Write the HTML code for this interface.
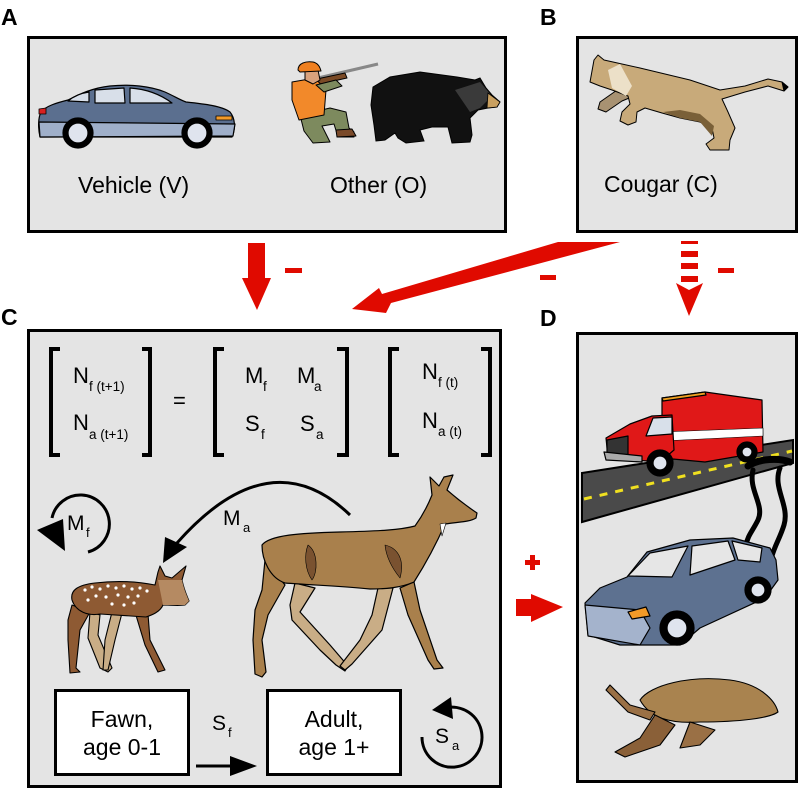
<!DOCTYPE html>
<html><head><meta charset="utf-8"><style>
html,body{margin:0;padding:0;background:#fff;}
svg{display:block;}
text{font-family:"Liberation Sans",Arial,sans-serif;fill:#000;}
</style></head><body>
<svg width="803" height="792" viewBox="0 0 803 792" xmlns="http://www.w3.org/2000/svg">
<!-- Panel labels -->
<text x="1" y="25" font-size="23" font-weight="bold">A</text>
<text x="540" y="25" font-size="23" font-weight="bold">B</text>
<text x="1" y="325" font-size="23" font-weight="bold">C</text>
<text x="540" y="326" font-size="23" font-weight="bold">D</text>

<!-- Panels -->
<rect x="28.5" y="37.5" width="477" height="194" fill="#e4e4e4" stroke="#000" stroke-width="3"/>
<rect x="577.5" y="37.5" width="219" height="194" fill="#e4e4e4" stroke="#000" stroke-width="3"/>
<rect x="28.5" y="330.5" width="472" height="456" fill="#e4e4e4" stroke="#000" stroke-width="3"/>
<rect x="577.5" y="333.5" width="219" height="448" fill="#e4e4e4" stroke="#000" stroke-width="3"/>

<!-- ===== Panel A: car ===== -->
<g stroke="#000" stroke-width="1.2" stroke-linejoin="round">
<path d="M40,137 C38,128 38,118 41,112 C46,106 56,103 68,100 C80,94 92,88 110,86 C130,84 150,86 165,92 C174,96 180,100 186,102 C205,104 222,106 230,112 C235,118 236,128 232,137 Z" fill="#5b6f8f"/>
<path d="M39,122 L235,124 L233,136 L40,137 Z" fill="#9fafc9"/>
<path d="M68,101 C74,96 82,93 89,92 L89,102 Z" fill="#d8dfe9"/>
<path d="M95,90 L124,88 L125,103 L95,103 Z" fill="#d8dfe9"/>
<path d="M130,88 C145,89 160,94 172,103 L130,103 Z" fill="#d8dfe9"/>
<path d="M216,116 L232,116 L232,120 L216,120 Z" fill="#f29a28" stroke-width="0.8"/>
<path d="M39,109 L46,108 L46,114 L39,114 Z" fill="#d82020" stroke-width="0.8"/>
<circle cx="78" cy="133" r="15" fill="#000"/>
<circle cx="78" cy="133" r="10" fill="#dfe4ee"/>
<circle cx="197" cy="133" r="15" fill="#000"/>
<circle cx="197" cy="133" r="10" fill="#dfe4ee"/>
</g>
<text x="78" y="193" font-size="23">Vehicle (V)</text>

<!-- hunter -->
<g stroke="#000" stroke-width="1" stroke-linejoin="round">
<line x1="318" y1="78" x2="378" y2="64" stroke="#888" stroke-width="3"/>
<path d="M312,80 L345,73 L347,78 L316,85 Z" fill="#7a4a26"/>
<path d="M300,115 L330,108 L346,112 L349,128 L354,132 L354,137 L338,137 L334,124 L322,126 L330,142 L313,143 L304,131 Z" fill="#7d8a5e"/>
<path d="M292,82 L315,78 L326,90 L324,115 L299,120 L292,100 Z" fill="#f2892a"/>
<path d="M316,85 L336,80 L342,86 L324,92 Z" fill="#7d8a5e"/>
<path d="M305,70 L318,70 L320,80 L313,84 L305,80 Z" fill="#d9a27d"/>
<path d="M298,70 C298,63 306,61 313,62 C318,63 320,67 321,71 L300,72 Z" fill="#f08020"/>
<path d="M336,130 L352,129 L356,136 L337,137 Z" fill="#7a4a2a"/>
</g>
<!-- bear -->
<path d="M373,87 L390,77 L420,72 L457,77 L475,80 L480,78 L486,88 L492,95 L500,102 L497,107 L488,108 L478,110 L470,118 L472,135 L470,142 L452,143 L450,135 L448,127 L432,127 L420,130 L424,141 L406,143 L398,138 L395,133 L385,140 L376,141 L374,125 L371,105 Z" fill="#111" stroke="#000" stroke-width="1"/>
<path d="M455,90 L480,82 L492,96 L480,108 L470,112 Z" fill="#3a3a3a"/>
<path d="M488,93 L500,102 L497,107 L487,108 Z" fill="#c9a060" stroke="#000" stroke-width="0.8"/>
<text x="330" y="193" font-size="23">Other (O)</text>

<!-- ===== Panel B: cougar ===== -->
<g stroke="#000" stroke-width="1" stroke-linejoin="round">
<path d="M620,88 L600,102 L598,109 L606,112 L622,101 L634,96 Z" fill="#a89272"/>
<path d="M590,82 L594,60 L598,55 L604,60 L613,62 L640,68 L665,74 L690,80 L720,90 L745,86 L768,79 L782,82 L788,87 L784,91 L768,86 L745,92 L722,99 L728,112 L735,128 L730,140 L729,150 L710,150 L706,144 L714,138 L712,128 L700,122 L680,118 L662,113 L645,108 L637,112 L636,122 L628,125 L620,121 L622,112 L630,104 L628,96 L612,90 L600,86 Z" fill="#c8aa7a"/>
<path d="M663,112 L680,110 L700,114 L714,126 L712,136 L700,122 L680,118 Z" fill="#7a6038" stroke="none"/>
<path d="M608,70 L620,64 L632,86 L626,96 L612,88 Z" fill="#ece0c8" stroke="none"/>
<path d="M782,82 L788,87 L784,91 Z" fill="#000"/>
</g>
<text x="604" y="192" font-size="23">Cougar (C)</text>

<!-- ===== Arrows between panels ===== -->
<g fill="#e00a00">
<rect x="248" y="243" width="17" height="37"/>
<polygon points="242,278 271,278 257,310"/>
<rect x="285" y="268" width="17" height="5"/>
<polygon points="558,242 620,242 391,303 386,313 352,309 379,288 382,294"/>
<rect x="540" y="275" width="16" height="5"/>
<rect x="681" y="241" width="17" height="3"/>
<rect x="681" y="251" width="17" height="6"/>
<rect x="681" y="263" width="17" height="6"/>
<rect x="681" y="276" width="17" height="6"/>
<polygon points="676,283 689,290 703,283 689,316"/>
<rect x="718" y="268" width="16" height="5"/>
<rect x="525" y="560" width="15" height="5"/>
<rect x="530" y="555" width="5" height="15"/>
<rect x="516" y="599" width="17" height="17"/>
<polygon points="531,594 563,607 531,622"/>
</g>

<!-- ===== Panel C: matrix ===== -->
<g fill="none" stroke="#000" stroke-width="4">
<path d="M60,349 L51,349 L51,455 L60,455"/>
<path d="M142,349 L150,349 L150,455 L142,455"/>
<path d="M224,349 L215,349 L215,455 L224,455"/>
<path d="M337,349 L347,349 L347,455 L337,455"/>
<path d="M399,349 L390,349 L390,455 L399,455"/>
<path d="M481,349 L490,349 L490,455 L481,455"/>
</g>
<g font-size="22">
<text x="73" y="383">N</text><text x="89" y="391" font-size="13.5">f (t+1)</text>
<text x="73" y="430">N</text><text x="89" y="439" font-size="13.5">a (t+1)</text>
<text x="173" y="408">=</text>
<text x="245" y="383">M</text><text x="263" y="391" font-size="13.5">f</text>
<text x="297" y="383">M</text><text x="314" y="391" font-size="13.5">a</text>
<text x="245" y="431">S</text><text x="261" y="439" font-size="13.5">f</text>
<text x="300" y="431">S</text><text x="316" y="439" font-size="13.5">a</text>
<text x="422" y="379">N</text><text x="438" y="387" font-size="13.5">f (t)</text>
<text x="422" y="428">N</text><text x="438" y="436" font-size="13.5">a (t)</text>
</g>

<!-- M_f loop -->
<path d="M88,552 A29,29 0 1 0 52,518" fill="none" stroke="#000" stroke-width="3"/>
<polygon points="37,530 63,519 65,551" fill="#000"/>
<text x="67" y="530" font-size="21">M</text><text x="86" y="537" font-size="13">f</text>

<!-- M_a arrow -->
<path d="M350,515 Q270,438 177,543" fill="none" stroke="#000" stroke-width="3"/>
<polygon points="163,563 165,537 187,547" fill="#000"/>
<text x="223" y="525" font-size="21">M</text><text x="243" y="532" font-size="13">a</text>

<!-- adult deer -->
<g stroke="#000" stroke-width="1.2" stroke-linejoin="round">
<path d="M295,583 L315,588 L300,612 L330,645 L348,666 L345,671 L336,665 L320,650 L292,620 L290,605 Z" fill="#c9ad86"/>
<path d="M378,588 L393,588 L382,630 L352,664 L345,670 L340,666 L360,640 L372,615 Z" fill="#c9ad86"/>
<path d="M265,560 L285,585 L268,615 L262,640 L266,672 L262,677 L255,674 L253,640 L255,610 L262,590 Z" fill="#a9804c"/>
<path d="M400,588 L414,582 L420,610 L437,660 L443,668 L434,669 L428,660 L408,615 Z" fill="#a9804c"/>
<path d="M262,545 C270,535 300,533 340,532 C380,531 400,530 415,526 C423,515 428,505 432,495 L430,477 L439,486 L444,477 L453,475 L447,490 C455,497 465,505 477,513 L476,518 C470,522 458,522 445,524 C438,540 428,560 414,582 C400,588 385,589 370,589 C340,586 310,585 285,583 C270,578 262,560 262,545 Z" fill="#a9804c"/>
<path d="M308,545 C318,552 318,572 312,580 C305,570 304,555 308,545 Z" fill="#7a5230" stroke-width="0.6"/>
<path d="M385,545 C398,548 405,560 400,578 C392,568 386,556 385,545 Z" fill="#7a5230" stroke-width="0.6"/>
<path d="M440,524 L446,523 L442,536 Z" fill="#fff" stroke-width="0.6"/>
</g>

<!-- fawn -->
<g stroke="#000" stroke-width="1.1" stroke-linejoin="round">
<path d="M90,612 L100,615 L98,635 L112,668 L108,672 L100,668 L88,638 Z" fill="#c9ad86"/>
<path d="M112,612 L122,613 L115,640 L108,670 L103,670 L105,640 Z" fill="#c9ad86"/>
<path d="M72,605 L90,612 L80,630 L76,668 L80,672 L70,673 L68,640 L68,620 Z" fill="#8e5a33"/>
<path d="M135,612 L148,614 L150,640 L165,670 L158,672 L145,645 Z" fill="#8e5a33"/>
<path d="M72,600 C70,590 78,585 95,583 C120,580 140,582 155,585 L158,572 L160,566 L165,576 L172,578 L186,566 L182,580 C184,590 187,596 189,601 L185,605 C178,606 170,605 163,605 C160,612 152,615 146,617 C130,616 115,615 100,614 C88,616 76,612 72,600 Z" fill="#8e5a33"/>
<path d="M158,580 L182,580 C184,590 187,596 189,601 L185,605 L163,605 Z" fill="#b58a62" stroke="none"/>
</g>
<g fill="#fff">
<circle cx="85" cy="590" r="1.6"/><circle cx="92" cy="587" r="1.6"/><circle cx="100" cy="589" r="1.6"/>
<circle cx="108" cy="586" r="1.6"/><circle cx="116" cy="588" r="1.6"/><circle cx="124" cy="586" r="1.6"/>
<circle cx="132" cy="589" r="1.6"/><circle cx="140" cy="588" r="1.6"/><circle cx="147" cy="591" r="1.6"/>
<circle cx="96" cy="596" r="1.6"/><circle cx="106" cy="597" r="1.6"/><circle cx="118" cy="595" r="1.6"/>
<circle cx="128" cy="597" r="1.6"/><circle cx="138" cy="596" r="1.6"/><circle cx="112" cy="604" r="1.6"/>
<circle cx="124" cy="605" r="1.6"/><circle cx="134" cy="603" r="1.6"/><circle cx="88" cy="600" r="1.6"/>
</g>

<!-- state boxes -->
<rect x="55.5" y="690.5" width="133" height="84" fill="#fff" stroke="#000" stroke-width="3"/>
<rect x="267.5" y="690.5" width="133" height="84" fill="#fff" stroke="#000" stroke-width="3"/>
<text x="122" y="727" font-size="23" text-anchor="middle">Fawn,</text>
<text x="122" y="755" font-size="23" text-anchor="middle">age 0-1</text>
<text x="334" y="727" font-size="23" text-anchor="middle">Adult,</text>
<text x="334" y="755" font-size="23" text-anchor="middle">age 1+</text>

<!-- S_f arrow -->
<line x1="196" y1="766" x2="236" y2="766" stroke="#000" stroke-width="3"/>
<polygon points="230,756 257,766 230,776" fill="#000"/>
<text x="212" y="730" font-size="21">S</text><text x="228" y="737" font-size="13">f</text>

<!-- S_a loop -->
<path d="M422,737 A30,30 0 1 0 445,708" fill="none" stroke="#000" stroke-width="3"/>
<polygon points="432,710 451,697 453,719" fill="#000"/>
<text x="435" y="743" font-size="21">S</text><text x="452" y="750" font-size="13">a</text>

<!-- ===== Panel D ===== -->
<!-- road -->
<polygon points="582,473 793,440 793,463 582,522" fill="#4a4a4a" stroke="#000" stroke-width="2"/>
<line x1="584" y1="499" x2="792" y2="451" stroke="#f0e020" stroke-width="3" stroke-dasharray="8,8"/>
<!-- skid marks -->
<g fill="none" stroke="#000" stroke-width="5" stroke-linecap="round">
<path d="M753,470 C748,490 765,505 758,520 C752,532 748,535 746,545"/>
<path d="M780,468 C772,488 790,505 784,525 C780,538 775,545 772,556"/>
<path d="M748,466 C760,458 780,458 790,462" stroke-width="7"/>
</g>
<!-- ambulance -->
<g stroke="#000" stroke-width="1.2" stroke-linejoin="round">
<polygon points="662,398 705,392 762,400 763,452 705,462 662,458" fill="#e01818"/>
<polygon points="662,398 705,392 706,395 663,401" fill="#f0a020"/>
<polygon points="662,432 763,428 763,436 662,441" fill="#fff" stroke-width="0.6"/>
<polygon points="606,438 630,424 652,416 672,415 674,450 660,462 608,458" fill="#e01818"/>
<polygon points="653,418 672,417 672,434 646,436" fill="#d8e0ea"/>
<polygon points="607,440 628,436 628,457 607,456" fill="#333"/>
<polygon points="604,452 642,456 642,462 606,460" fill="#aaa"/>
<circle cx="660" cy="463" r="13" fill="#000"/><circle cx="660" cy="463" r="7" fill="#dfe4ee"/>
<circle cx="747" cy="452" r="10" fill="#000"/><circle cx="747" cy="452" r="5" fill="#dfe4ee"/>
</g>
<!-- crashed car -->
<g stroke="#000" stroke-width="1.2" stroke-linejoin="round">
<polygon points="585,603 600,588 627,577 647,552 690,540 733,538 770,548 776,560 778,580 765,598 700,628 680,645 620,645 588,635" fill="#5d7190"/>
<polygon points="585,605 640,610 650,628 640,645 588,636" fill="#a4b3cc"/>
<polygon points="628,576 650,553 688,546 672,577" fill="#e6e6e6"/>
<polygon points="692,546 728,541 735,560 690,575" fill="#e6e6e6"/>
<polygon points="732,541 762,548 760,562 738,560" fill="#e6e6e6"/>
<polygon points="628,612 646,607 650,616 632,619" fill="#f29a28"/>
<circle cx="677" cy="628" r="17" fill="#000"/><circle cx="677" cy="628" r="10" fill="#dfe4ee"/>
<circle cx="758" cy="590" r="13" fill="#000"/><circle cx="758" cy="590" r="7" fill="#dfe4ee"/>
</g>
<!-- dead deer -->
<g stroke="#000" stroke-width="1.1" stroke-linejoin="round">
<path d="M640,700 C650,685 690,675 730,680 C760,684 775,700 778,712 C770,718 740,722 700,722 C670,724 650,718 640,700 Z" fill="#a9834f"/>
<path d="M610,685 L630,705 L655,712 L650,720 L628,712 L606,690 Z" fill="#9a7045"/>
<path d="M655,715 L675,725 L660,745 L625,757 L615,752 L640,738 Z" fill="#8a6038"/>
<path d="M690,722 L715,730 L700,745 L680,748 Z" fill="#9a7045"/>
</g>
</svg>
</body></html>
